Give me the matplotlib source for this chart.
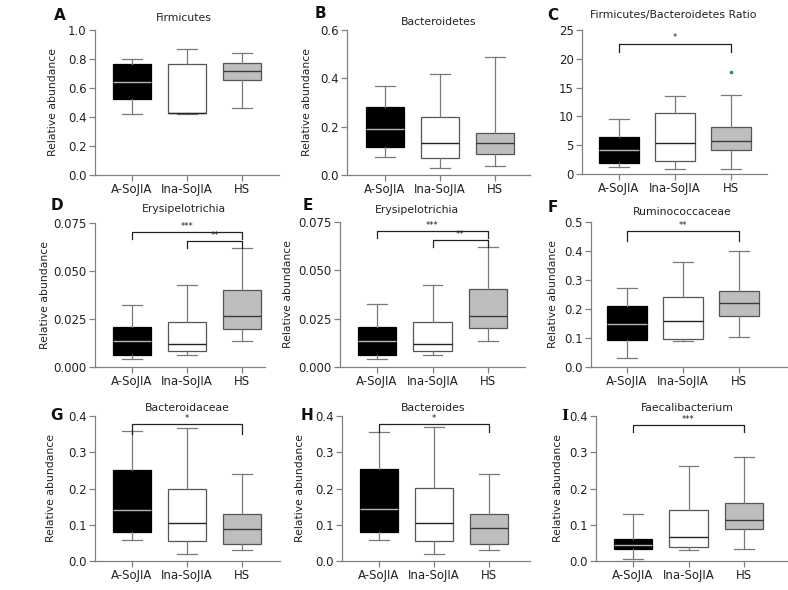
import matplotlib
matplotlib.use("Agg")
import matplotlib.pyplot as plt
from matplotlib.ticker import FormatStrFormatter

W, H = 788, 590

groups = ["A-SoJIA", "Ina-SoJIA", "HS"]

# five numbers per group: whisker low, q1, median, q3, whisker high
firmicutes = [[0.42, 0.522, 0.644, 0.763, 0.800],
              [0.42, 0.425, 0.425, 0.766, 0.867],
              [0.46, 0.655, 0.717, 0.770, 0.839]]
bacteroidetes = [[0.073, 0.116, 0.189, 0.283, 0.370],
                 [0.028, 0.069, 0.134, 0.241, 0.418],
                 [0.039, 0.088, 0.131, 0.175, 0.487]]
fb_ratio = [[1.2, 1.9, 4.1, 6.4, 9.5],
            [0.8, 2.2, 5.3, 10.6, 13.5],
            [0.8, 4.1, 5.7, 8.1, 13.8]]
fb_ratio_outliers = [[], [], [17.7]]
erysipelotrichia = [[0.0040, 0.0061, 0.0134, 0.0208, 0.0325],
                    [0.0064, 0.0082, 0.0120, 0.0234, 0.0425],
                    [0.0137, 0.0200, 0.0264, 0.0403, 0.0622]]
ruminococcaceae = [[0.030, 0.093, 0.150, 0.212, 0.271],
                   [0.088, 0.096, 0.157, 0.240, 0.363],
                   [0.102, 0.177, 0.222, 0.262, 0.400]]
bacteroidaceae = [[0.057, 0.080, 0.142, 0.251, 0.359],
                  [0.019, 0.056, 0.106, 0.200, 0.368],
                  [0.029, 0.048, 0.089, 0.129, 0.241]]
bacteroides = [[0.057, 0.080, 0.143, 0.255, 0.357],
               [0.019, 0.055, 0.106, 0.202, 0.369],
               [0.029, 0.048, 0.091, 0.130, 0.241]]
faecalibacterium = [[0.005, 0.033, 0.043, 0.061, 0.130],
                    [0.031, 0.039, 0.066, 0.140, 0.263],
                    [0.032, 0.089, 0.112, 0.161, 0.288]]

# significance brackets: from group, to group, bar height, tick end, label
sig_c = [(0, 2, 22.6, 21.2, "*")]
sig_de = [(0, 2, 0.0703, 0.0668, "***"), (1, 2, 0.0656, 0.0620, "**")]
sig_f = [(0, 2, 0.468, 0.434, "**")]
sig_g = [(0, 2, 0.377, 0.349, "*")]
sig_h = [(0, 2, 0.378, 0.355, "*")]
sig_i = [(0, 2, 0.375, 0.357, "***")]

plt.rcParams["font.family"] = "DejaVu Sans"
fig = plt.figure(figsize=(W / 100, H / 100), dpi=100)

fills = ["black", "white", "#bebebe"]
edges = ["black", "#555555", "#555555"]
medcols = ["#b4b4b4", "#222222", "#3a3a3a"]
axcol = "#808080"


def ftext(x, y, s, **kw):
    fig.text(x / W, 1 - y / H, s, ha="center", va="center", **kw)


def panel(left, right, top, bottom, ticks_px, data, ylim, yticks, fmt,
          title, title_xy, letter, letter_xy, ylab_x=None, fliers=None,
          sigs=(), letter_font=None):
    ax = fig.add_axes([left / W, 1 - bottom / H, (right - left) / W, (bottom - top) / H])
    sp = (ticks_px[2] - ticks_px[0]) / 2
    ax.set_xlim((left - ticks_px[0]) / sp, 2 + (right - ticks_px[2]) / sp)
    ax.set_ylim(*ylim)
    stats = []
    for i, v in enumerate(data):
        stats.append(dict(whislo=v[0], q1=v[1], med=v[2], q3=v[3], whishi=v[4],
                          fliers=fliers[i] if fliers else []))
    for i, st in enumerate(stats):
        ax.bxp([st], positions=[i], widths=0.7, patch_artist=True,
               boxprops=dict(facecolor=fills[i], edgecolor=edges[i], linewidth=0.9),
               medianprops=dict(color=medcols[i], linewidth=1.0),
               whiskerprops=dict(color="#7a7a7a", linewidth=0.9),
               capprops=dict(color="#7a7a7a", linewidth=0.9),
               flierprops=dict(marker="o", markersize=1.6, markerfacecolor="#2a8a7a",
                               markeredgecolor="#2a8a7a"))
    for x1, x2, y, ylo, lab in sigs:
        ax.plot([x1, x1, x2, x2], [ylo, y, y, ylo], color="#222222", lw=0.9,
                clip_on=False)
        ax.annotate(lab, ((x1 + x2) / 2, y), xytext=(0, 1), textcoords="offset points",
                    ha="center", va="bottom", fontsize=6, color="#222222",
                    annotation_clip=False)
    ax.set_xticks(range(3))
    ax.set_xticklabels(groups)
    ax.set_yticks(yticks)
    ax.yaxis.set_major_formatter(FormatStrFormatter(fmt))
    for s in ["top", "right"]:
        ax.spines[s].set_visible(False)
    for s in ["left", "bottom"]:
        ax.spines[s].set_color(axcol)
        ax.spines[s].set_linewidth(0.9)
    ax.tick_params(direction="out", length=4, width=0.9, color=axcol,
                   labelsize=8.5, labelcolor="#222222", pad=2)
    if ylab_x is not None:
        ax.set_ylabel("Relative abundance", fontsize=7.8, color="#222222")
        ax.yaxis.set_label_coords((ylab_x - left) / (right - left), 0.5)
    ftext(*title_xy, title, fontsize=7.8, color="#222222")
    ftext(*letter_xy, letter, fontsize=11, fontweight="bold", color="#111111",
          **({"family": letter_font} if letter_font else {}))
    return ax


panel(95, 279, 30, 175, (132, 187, 242), firmicutes, (0, 1.0),
      [0, 0.2, 0.4, 0.6, 0.8, 1.0], "%.1f", "Firmicutes", (184, 18),
      "A", (60, 15), ylab_x=58)
panel(347, 530, 30, 175, (385, 440, 495), bacteroidetes, (0, 0.6),
      [0, 0.2, 0.4, 0.6], "%.1f", "Bacteroidetes", (439, 22),
      "B", (320, 13), ylab_x=312)
panel(582, 767, 30, 174, (619, 675, 731), fb_ratio, (0, 25),
      [0, 5, 10, 15, 20, 25], "%d", "Firmicutes/Bacteroidetes Ratio", (673, 15),
      "C", (553, 16), fliers=fb_ratio_outliers, sigs=sig_c)
panel(95, 265, 223, 367, (132, 187, 242), erysipelotrichia, (0, 0.075),
      [0, 0.025, 0.05, 0.075], "%.3f", "Erysipelotrichia", (184, 209),
      "D", (57, 205), ylab_x=50, sigs=sig_de)
panel(340, 525, 222, 367, (377, 433, 488), erysipelotrichia, (0, 0.075),
      [0, 0.025, 0.05, 0.075], "%.3f", "Erysipelotrichia", (417, 210),
      "E", (308, 205), ylab_x=293, sigs=sig_de)
panel(591, 788, 222, 367, (627, 683, 739), ruminococcaceae, (0, 0.5),
      [0, 0.1, 0.2, 0.3, 0.4, 0.5], "%.1f", "Ruminococcaceae", (682, 212),
      "F", (553, 208), ylab_x=558, sigs=sig_f)
panel(95, 280, 416, 561, (132, 187, 242), bacteroidaceae, (0, 0.4),
      [0, 0.1, 0.2, 0.3, 0.4], "%.1f", "Bacteroidaceae", (187, 408),
      "G", (57, 415), ylab_x=56, sigs=sig_g)
panel(342, 530, 416, 561, (379, 434, 489), bacteroides, (0, 0.4),
      [0, 0.1, 0.2, 0.3, 0.4], "%.1f", "Bacteroides", (433, 408),
      "H", (307, 415), ylab_x=305, sigs=sig_h)
panel(596, 788, 416, 561, (633, 688, 744), faecalibacterium, (0, 0.4),
      [0, 0.1, 0.2, 0.3, 0.4], "%.1f", "Faecalibacterium", (687, 408),
      "I", (565, 416), ylab_x=563, sigs=sig_i, letter_font="DejaVu Serif")

fig.savefig("out.png", dpi=100)
